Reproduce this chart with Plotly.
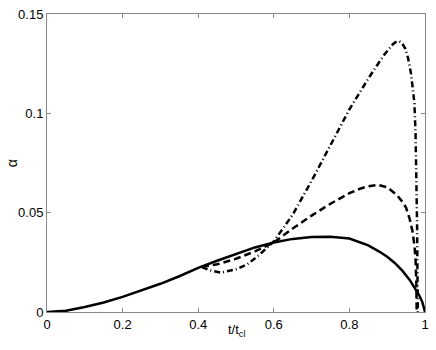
import plotly.graph_objects as go

# solid curve (full range)
t_solid = [0, 0.05, 0.1, 0.15, 0.2, 0.25, 0.3, 0.35, 0.4, 0.45, 0.5, 0.55, 0.6,
           0.65, 0.7, 0.725, 0.75, 0.8, 0.85, 0.88, 0.9, 0.92, 0.94, 0.96,
           0.975, 0.985, 0.993, 1.0]
a_solid = [0, 0.0006, 0.0025, 0.0048, 0.0076, 0.0108, 0.0142, 0.0180, 0.0222,
           0.0258, 0.0293, 0.0325, 0.0350, 0.0368, 0.0378, 0.0380, 0.0379,
           0.0370, 0.0335, 0.0303, 0.0278, 0.0247, 0.0208, 0.0160, 0.0117,
           0.0083, 0.0050, 0]

# dashed branch
t_dash = [0.41, 0.45, 0.5, 0.55, 0.6, 0.65, 0.7, 0.75, 0.8, 0.83, 0.85, 0.875,
          0.9, 0.925, 0.94, 0.95, 0.96, 0.967, 0.972, 0.975, 0.977, 0.978]
a_dash = [0.0226, 0.0240, 0.0268, 0.0305, 0.0350, 0.0420, 0.0485, 0.0545,
          0.0598, 0.0622, 0.0633, 0.0640, 0.0628, 0.0590, 0.0555, 0.0525,
          0.0465, 0.0405, 0.0335, 0.0265, 0.0150, 0]

# dash-dot branch
t_dd = [0.41, 0.43, 0.46, 0.5, 0.53, 0.56, 0.6, 0.65, 0.7, 0.75, 0.8, 0.85,
        0.89, 0.905, 0.915, 0.925, 0.932, 0.94, 0.948, 0.955, 0.963, 0.968,
        0.972, 0.975, 0.977, 0.979, 0.980, 0.981]
a_dd = [0.0226, 0.0210, 0.0198, 0.0215, 0.0240, 0.0285, 0.0355, 0.0490,
        0.0660, 0.0840, 0.1020, 0.1175, 0.1290, 0.1325, 0.1348, 0.1362,
        0.1363, 0.1352, 0.1325, 0.1280, 0.1200, 0.1120, 0.1050, 0.0900,
        0.0700, 0.0450, 0.0200, 0]

x_ticks = [0, 0.2, 0.4, 0.6, 0.8, 1]
x_labels = ['0', '0.2', '0.4', '0.6', '0.8', '1']
y_ticks = [0, 0.05, 0.1, 0.15]
y_labels = ['0', '0.05', '0.1', '0.15']

fig = go.Figure()

fig.add_trace(go.Scatter(x=t_solid, y=a_solid, mode='lines',
                         line=dict(color='black', width=2.5)))
fig.add_trace(go.Scatter(x=t_dash, y=a_dash, mode='lines',
                         line=dict(color='black', width=2.5, dash='7px,4px')))
fig.add_trace(go.Scatter(x=t_dd, y=a_dd, mode='lines',
                         line=dict(color='black', width=2.5, dash='6px,3px,1px,3px')))

axis_common = dict(showgrid=False, zeroline=False, showline=True,
                   linecolor='#888', linewidth=1, mirror='ticks',
                   ticks='inside', ticklen=4, tickcolor='#888',
                   tickfont=dict(family='Liberation Sans, Arial', size=13, color='black'))

fig.update_layout(
    width=436, height=350,
    margin=dict(l=47, r=7, t=11, b=38),
    plot_bgcolor='white', paper_bgcolor='white',
    showlegend=False,
    xaxis=dict(range=[0, 1], tickvals=x_ticks, ticktext=x_labels, **axis_common),
    yaxis=dict(range=[0, 0.15], tickvals=y_ticks, ticktext=y_labels, **axis_common),
    annotations=[
        dict(text='t/t<sub>cl</sub>', xref='paper', yref='paper', x=0.5, y=-0.063,
             showarrow=False, xanchor='center', yanchor='middle',
             font=dict(family='Liberation Sans, Arial', size=13, color='black')),
        dict(text='α', xref='paper', yref='paper', x=-0.092, y=0.5, textangle=-90,
             showarrow=False, xanchor='center', yanchor='middle',
             font=dict(family='Liberation Sans, Arial', size=14, color='black')),
    ],
)

# drop the default body margin so the figure sits at the window's corner
fig.write_html("out.html", config={'displayModeBar': False},
               post_script="document.body.style.margin='0px';")
